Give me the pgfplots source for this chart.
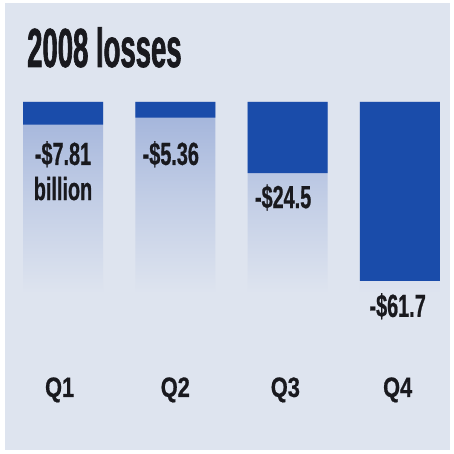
\documentclass[border=0pt]{standalone}
\usepackage{pgfplots}
\pgfplotsset{compat=1.18}
\usepackage{fontspec}
\setmainfont{Liberation Sans}
\newfontfamily\titlefont[FakeStretch=0.5,FakeBold=1.2]{Liberation Sans Bold}
\newfontfamily\valfont[FakeStretch=0.62,FakeBold=0.6]{Liberation Sans Bold}
\newfontfamily\qfont[FakeStretch=0.78,FakeBold=0.6]{Liberation Sans Bold}
\definecolor{panel}{RGB}{222,228,239}
\definecolor{barblue}{RGB}{26,76,170}
\definecolor{gradtop}{RGB}{160,178,218}
\definecolor{txt}{RGB}{25,25,30}
\begin{document}
\begin{tikzpicture}
\begin{axis}[
  scale only axis,
  width=453pt, height=454pt,
  xmin=-0.561, xmax=3.4728,
  ymin=-121.38, ymax=35.172,
  axis lines=none,
  clip=false,
  axis background/.style={fill=white},
]
\fill[panel] (rel axis cs:0.011,0.009) rectangle (rel axis cs:0.993,0.993);
% gradient columns
\addplot[ybar, bar width=80pt, bar shift=0pt, draw=none,
  shading=axis, top color=gradtop, bottom color=panel, middle color=gradtop!45!panel]
  coordinates {(0,-66) (1,-66) (2,-66) (3,-66)};
% data bars
\addplot[ybar, bar width=80pt, bar shift=0pt, draw=none, fill=barblue]
  coordinates {(0,-7.81) (1,-5.36) (2,-24.5) (3,-61.7)};
% title
\node[anchor=base west, inner sep=0pt, text=txt, font=\titlefont\fontsize{55}{60}\selectfont]
  at (axis cs:-0.3206,12.07) {2008 losses};
% value labels
\node[anchor=base, inner sep=0pt, text=txt, font=\valfont\fontsize{32}{35}\selectfont] at (axis cs:0,-21.7) {-\$7.81};
\node[anchor=base, inner sep=0pt, text=txt, font=\valfont\fontsize{32}{35}\selectfont] at (axis cs:0,-33.8) {billion};
\node[anchor=base, inner sep=0pt, text=txt, font=\valfont\fontsize{32}{35}\selectfont] at (axis cs:0.96,-21.7) {-\$5.36};
\node[anchor=base, inner sep=0pt, text=txt, font=\valfont\fontsize{32}{35}\selectfont] at (axis cs:1.96,-36.6) {-\$24.5};
\node[anchor=base, inner sep=0pt, text=txt, font=\valfont\fontsize{32}{35}\selectfont] at (axis cs:2.98,-74.1) {-\$61.7};
% category labels
\node[anchor=base, inner sep=0pt, text=txt, font=\qfont\fontsize{28}{30}\selectfont] at (axis cs:-0.03,-101.7) {Q1};
\node[anchor=base, inner sep=0pt, text=txt, font=\qfont\fontsize{28}{30}\selectfont] at (axis cs:1,-101.7) {Q2};
\node[anchor=base, inner sep=0pt, text=txt, font=\qfont\fontsize{28}{30}\selectfont] at (axis cs:1.98,-101.7) {Q3};
\node[anchor=base, inner sep=0pt, text=txt, font=\qfont\fontsize{28}{30}\selectfont] at (axis cs:2.98,-101.7) {Q4};
\end{axis}
\end{tikzpicture}
\end{document}
